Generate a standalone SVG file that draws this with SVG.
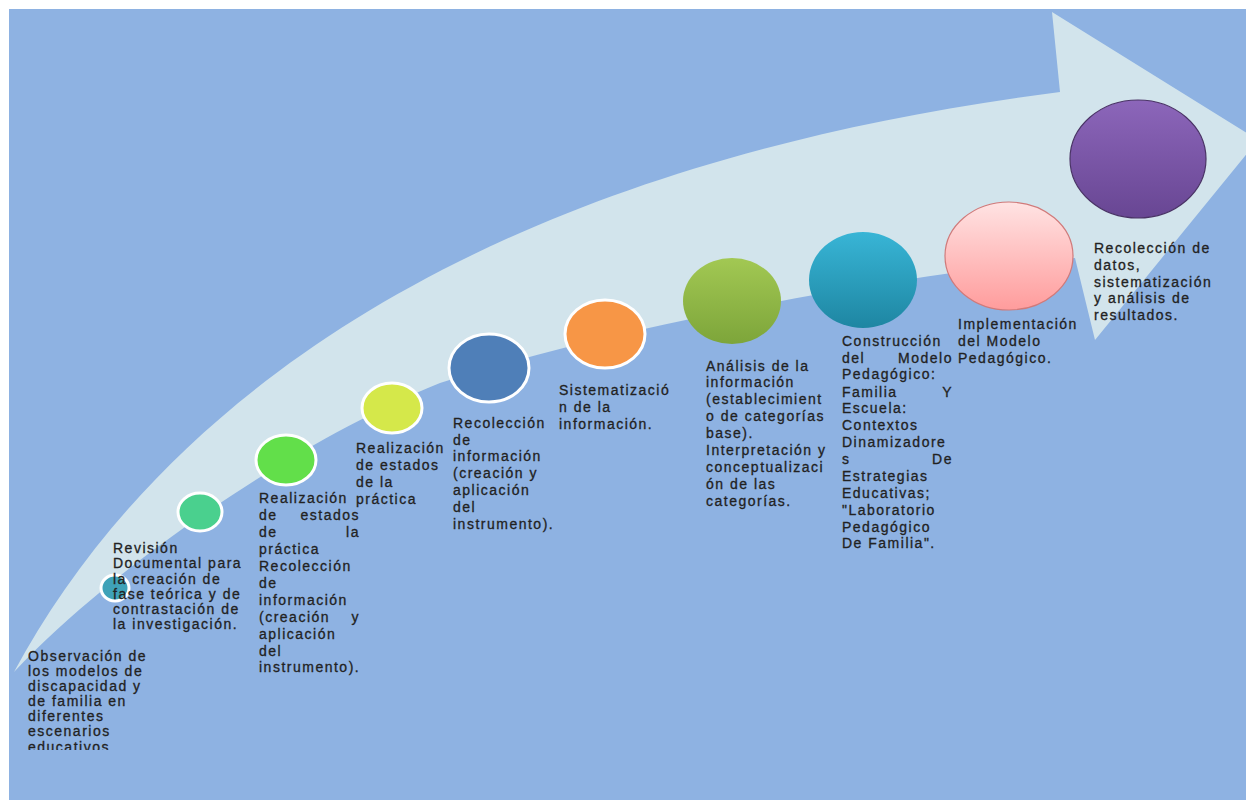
<svg xmlns="http://www.w3.org/2000/svg" width="1246" height="800" viewBox="0 0 1246 800">
<defs>
<style>
.t{font-family:"Liberation Sans",Arial,sans-serif;font-size:14px;letter-spacing:1.5px;fill:#222222;stroke:#222222;stroke-width:0.3px;}
.ring{stroke:#ffffff;stroke-width:3;}
</style>
<linearGradient id="gOlive" x1="0" y1="0" x2="0" y2="1"><stop offset="0" stop-color="#A2C853"/><stop offset="1" stop-color="#7DA53A"/></linearGradient>
<linearGradient id="gTeal" x1="0" y1="0" x2="0" y2="1"><stop offset="0" stop-color="#38B5D6"/><stop offset="1" stop-color="#1E86A2"/></linearGradient>
<linearGradient id="gPink" x1="0" y1="0" x2="0" y2="1"><stop offset="0" stop-color="#FFE3E3"/><stop offset="1" stop-color="#FF9C9C"/></linearGradient>
<linearGradient id="gPurple" x1="0" y1="0" x2="0" y2="1"><stop offset="0" stop-color="#8C66BA"/><stop offset="1" stop-color="#684693"/></linearGradient>
<clipPath id="clip1"><rect x="0" y="0" width="1246" height="750"/></clipPath>
</defs>
<rect x="9" y="9" width="1237" height="791" fill="#8EB2E2"/>
<g id="arrow">
<path d="M14,672 C150,420 450,170 1060,92 L1052,12 L1258,140 L1095,340 L1075,258 C900,275 620,325 440,383 C300,440 120,560 14,672 Z" fill="#D2E4EC"/>
</g>
<g id="connectors"></g>
<g id="node1">
<ellipse cx="115" cy="588" rx="14" ry="13" fill="#3FA2B8" class="ring"/>
<g clip-path="url(#clip1)">
<text class="t" x="28" y="661">Observación de</text>
<text class="t" x="28" y="676">los modelos de</text>
<text class="t" x="28" y="691">discapacidad y</text>
<text class="t" x="28" y="706">de familia en</text>
<text class="t" x="28" y="721">diferentes</text>
<text class="t" x="28" y="736">escenarios</text>
<text class="t" x="28" y="752">educativos</text>
</g>
</g>
<g id="node2">
<ellipse cx="200" cy="512" rx="22" ry="19" fill="#4AD08E" class="ring"/>
<text class="t" x="113" y="553">Revisión</text>
<text class="t" x="113" y="568">Documental para</text>
<text class="t" x="113" y="584">la creación de</text>
<text class="t" x="113" y="599">fase teórica y de</text>
<text class="t" x="113" y="614">contrastación de</text>
<text class="t" x="113" y="629">la investigación.</text>
</g>
<g id="node3">
<ellipse cx="286" cy="460" rx="30" ry="25" fill="#62DF4A" class="ring"/>
<text class="t" x="259" y="503">Realización</text>
<text class="t" x="259" y="520">de</text><text class="t" x="360" y="520" text-anchor="end">estados</text>
<text class="t" x="259" y="537">de</text><text class="t" x="360" y="537" text-anchor="end">la</text>
<text class="t" x="259" y="554">práctica</text>
<text class="t" x="259" y="571">Recolección</text>
<text class="t" x="259" y="588">de</text>
<text class="t" x="259" y="605">información</text>
<text class="t" x="259" y="622">(creación</text><text class="t" x="360" y="622" text-anchor="end">y</text>
<text class="t" x="259" y="639">aplicación</text>
<text class="t" x="259" y="656">del</text>
<text class="t" x="259" y="672">instrumento).</text>
</g>
<g id="node4">
<ellipse cx="392" cy="408" rx="30" ry="25" fill="#D5E84A" class="ring"/>
<text class="t" x="356" y="453">Realización</text>
<text class="t" x="356" y="470">de estados</text>
<text class="t" x="356" y="487">de la</text>
<text class="t" x="356" y="504">práctica</text>
</g>
<g id="node5">
<ellipse cx="489" cy="368" rx="40" ry="34" fill="#4F7FB8" class="ring"/>
<text class="t" x="453" y="428">Recolección</text>
<text class="t" x="453" y="445">de</text>
<text class="t" x="453" y="461">información</text>
<text class="t" x="453" y="478">(creación y</text>
<text class="t" x="453" y="495">aplicación</text>
<text class="t" x="453" y="512">del</text>
<text class="t" x="453" y="529">instrumento).</text>
</g>
<g id="node6">
<ellipse cx="605" cy="334" rx="40" ry="34" fill="#F79646" class="ring"/>
<text class="t" x="559" y="395">Sistematizació</text>
<text class="t" x="559" y="412">n de la</text>
<text class="t" x="559" y="429">información.</text>
</g>
<g id="node7">
<ellipse cx="732" cy="301" rx="49" ry="43" fill="url(#gOlive)"/>
<text class="t" x="706" y="371">Análisis de la</text>
<text class="t" x="706" y="387">información</text>
<text class="t" x="706" y="404">(establecimient</text>
<text class="t" x="706" y="421">o de categorías</text>
<text class="t" x="706" y="438">base).</text>
<text class="t" x="706" y="455">Interpretación y</text>
<text class="t" x="706" y="472">conceptualizaci</text>
<text class="t" x="706" y="489">ón de las</text>
<text class="t" x="706" y="506">categorías.</text>
</g>
<g id="node8">
<ellipse cx="863" cy="280" rx="54" ry="48" fill="url(#gTeal)"/>
<text class="t" x="842" y="346">Construcción</text>
<text class="t" x="842" y="363">del</text><text class="t" x="953" y="363" text-anchor="end">Modelo</text>
<text class="t" x="842" y="379">Pedagógico:</text>
<text class="t" x="842" y="397">Familia</text><text class="t" x="953" y="397" text-anchor="end">Y</text>
<text class="t" x="842" y="413">Escuela:</text>
<text class="t" x="842" y="430">Contextos</text>
<text class="t" x="842" y="447">Dinamizadore</text>
<text class="t" x="842" y="464">s</text><text class="t" x="953" y="464" text-anchor="end">De</text>
<text class="t" x="842" y="481">Estrategias</text>
<text class="t" x="842" y="498">Educativas;</text>
<text class="t" x="842" y="515">"Laboratorio</text>
<text class="t" x="842" y="532">Pedagógico</text>
<text class="t" x="842" y="548">De Familia".</text>
</g>
<g id="node9">
<ellipse cx="1009" cy="256" rx="64" ry="54" fill="url(#gPink)" stroke="#D07A7A" stroke-width="1.2"/>
<text class="t" x="958" y="329">Implementación</text>
<text class="t" x="958" y="346">del Modelo</text>
<text class="t" x="958" y="363">Pedagógico.</text>
</g>
<g id="node10">
<ellipse cx="1138" cy="159" rx="68" ry="59" fill="url(#gPurple)" stroke="#4A3366" stroke-width="1.2"/>
<text class="t" x="1094" y="253">Recolección de</text>
<text class="t" x="1094" y="270">datos,</text>
<text class="t" x="1094" y="287">sistematización</text>
<text class="t" x="1094" y="303">y análisis de</text>
<text class="t" x="1094" y="320">resultados.</text>
</g>
</svg>
